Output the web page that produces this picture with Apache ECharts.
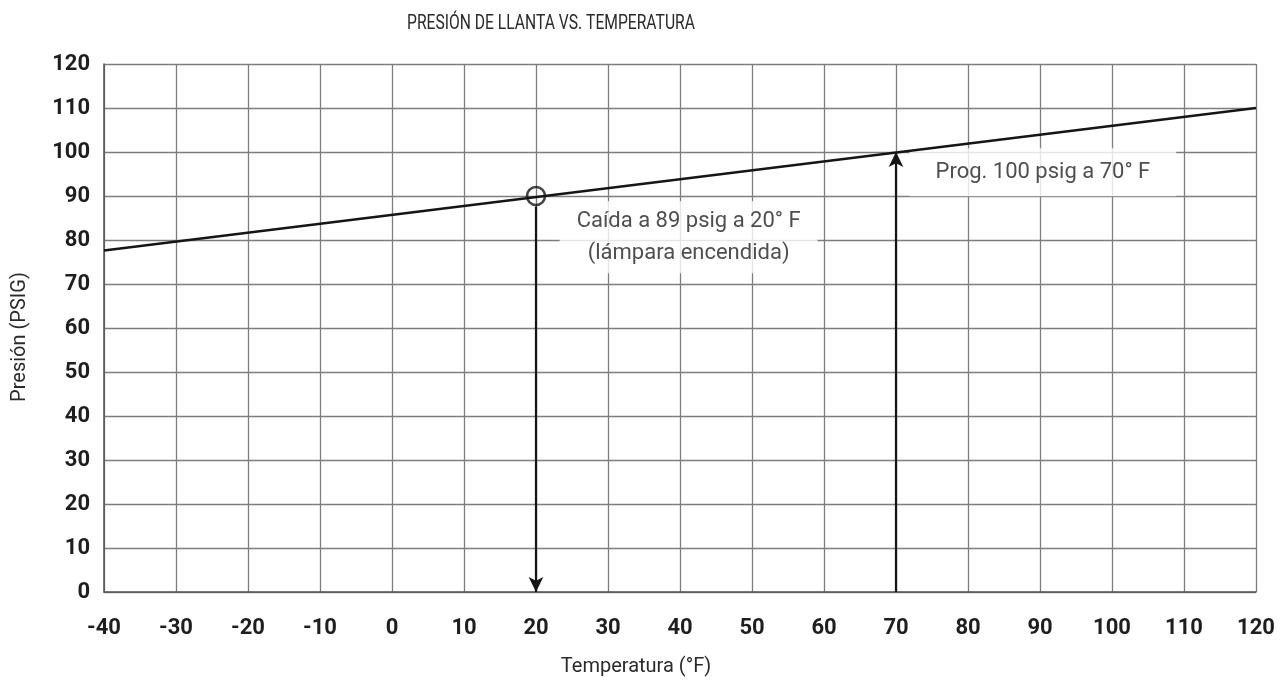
<!DOCTYPE html>
<html>
<head>
<meta charset="utf-8">
<script src="https://cdn.jsdelivr.net/npm/echarts@6/dist/echarts.min.js"></script>
<style>html,body{margin:0;padding:0;background:#fff}#c{width:1288px;height:681px}</style>
</head>
<body>
<div id="c"></div>
<script>
// ---- data ----
var titleText = 'PRESIÓN DE LLANTA VS. TEMPERATURA';
var xName = 'Temperatura (°F)';
var yName = 'Presión (PSIG)';
var xTicks = [-40, -30, -20, -10, 0, 10, 20, 30, 40, 50, 60, 70, 80, 90, 100, 110, 120];
var yTicks = [0, 10, 20, 30, 40, 50, 60, 70, 80, 90, 100, 110, 120];
var lineTemps = [-40, 120];
var linePressures = [77.6, 110];
var dropPoint = [20, 90];
var arrowDown = [[20, 87.6], [20, 0]];
var arrowUp = [[70, 0], [70, 100]];
var noteTexts = ['Caída a 89 psig a 20° F\n(lámpara encendida)', 'Prog. 100 psig a 70° F'];
var noteX = [41.2, 90.4];
var noteY = [80.6, 95.4];

var chart = echarts.init(document.getElementById('c'), null, {renderer: 'canvas'});
var gridCol = '#7d7d7d';
var tickFont = 'Roboto';
var lineData = lineTemps.map(function (t, i) { return [t, linePressures[i]]; });
var notePad = [[4, 17], [8, 26]];

var arrowEnd = {symbol: 'arrow', symbolSize: [11, 15]};
var option = {
  animation: false,
  backgroundColor: '#fff',
  grid: {left: 104, right: 32, top: 64, bottom: 89, containLabel: false},
  graphic: [
    {type: 'text', x: 551, y: 24, scaleX: 0.745, style: {text: titleText, fill: '#2a2a2a', font: '400 21px Roboto', textAlign: 'center', textVerticalAlign: 'middle'}},
    {type: 'text', x: 636, y: 667, style: {text: xName, fill: '#2a2a2a', font: '400 20px Roboto', textAlign: 'center', textVerticalAlign: 'middle'}},
    {type: 'text', x: 20, y: 337, rotation: Math.PI / 2, style: {text: yName, fill: '#2a2a2a', font: '400 20px Roboto', textAlign: 'center', textVerticalAlign: 'middle'}}
  ],
  xAxis: {
    type: 'value', min: xTicks[0], max: xTicks[xTicks.length - 1], interval: 10,
    axisLine: {show: true, onZero: false, lineStyle: {color: '#555', width: 1.5}},
    axisTick: {show: false},
    axisLabel: {margin: 25, color: '#1e1e1e', fontSize: 22, fontWeight: 'bold', fontFamily: tickFont, showMinLabel: true, showMaxLabel: true},
    splitLine: {show: true, lineStyle: {color: gridCol, width: 1.3}}
  },
  yAxis: {
    type: 'value', min: yTicks[0], max: yTicks[yTicks.length - 1], interval: 10,
    axisLine: {show: true, onZero: false, lineStyle: {color: '#555', width: 1.5}},
    axisTick: {show: false},
    axisLabel: {margin: 14, color: '#1e1e1e', fontSize: 22, fontWeight: 'bold', fontFamily: tickFont, showMinLabel: true, showMaxLabel: true},
    splitLine: {show: true, lineStyle: {color: gridCol, width: 1.3}}
  },
  series: [
    {
      type: 'scatter', name: 'notes', z: 3, symbolSize: 0, silent: true,
      data: noteTexts.map(function (t, i) {
        return {value: [noteX[i], noteY[i]], text: t, label: {padding: notePad[i]}};
      }),
      label: {
        show: true, position: 'inside', formatter: function (p) { return p.data.text; },
        color: '#222', fontSize: 22, fontFamily: 'Roboto', lineHeight: 32, align: 'center',
        backgroundColor: '#fff'
      }
    },
    {
      type: 'line', name: 'presion', z: 5, data: lineData, showSymbol: false, silent: true,
      lineStyle: {color: '#151515', width: 2.6}
    },
    {
      type: 'scatter', name: 'punto', z: 6, data: [dropPoint], symbol: 'circle', symbolSize: 18, silent: true,
      itemStyle: {color: 'rgba(0,0,0,0)', borderColor: '#151515', borderWidth: 2.6}
    },
    {
      type: 'line', name: 'flechas', z: 6, data: [], silent: true,
      markLine: {
        silent: true, animation: false, label: {show: false},
        lineStyle: {color: '#151515', width: 2.2, type: 'solid'},
        symbol: ['none', 'arrow'], symbolSize: 14,
        data: [
          [{coord: arrowDown[0], symbol: 'none'}, Object.assign({coord: arrowDown[1]}, arrowEnd)],
          [{coord: arrowUp[0], symbol: 'none'}, Object.assign({coord: arrowUp[1]}, arrowEnd)]
        ]
      }
    }
  ]
};
chart.setOption(option);
</script>
</body>
</html>
